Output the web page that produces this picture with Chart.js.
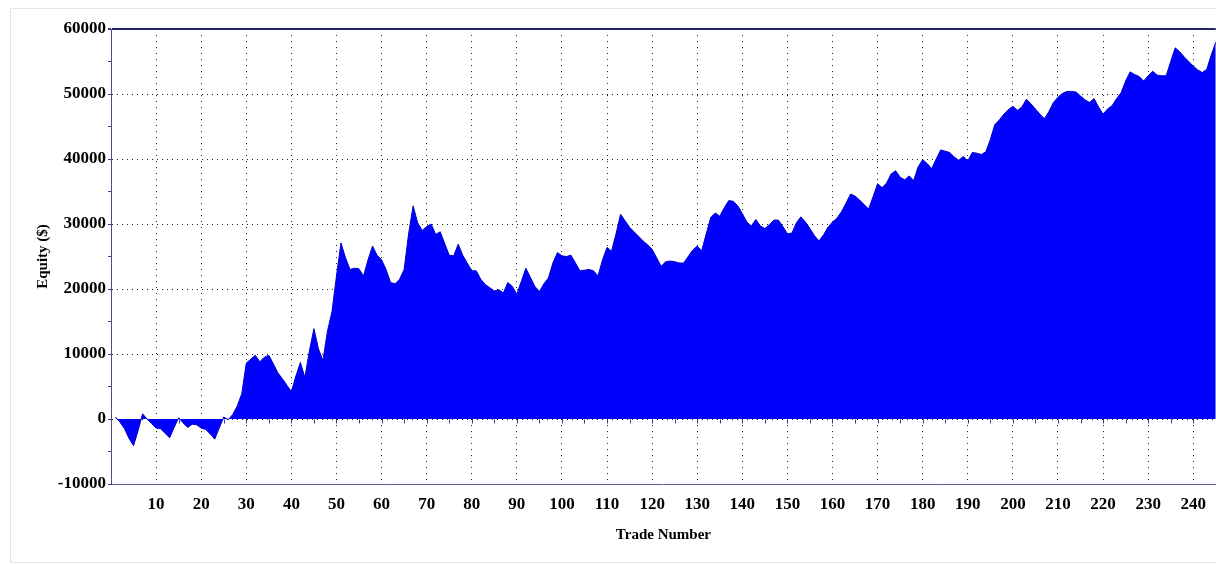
<!DOCTYPE html>
<html>
<head>
<meta charset="utf-8">
<script src="https://cdn.jsdelivr.net/npm/chart.js@4/dist/chart.umd.min.js"></script>
<style>
  html, body { margin: 0; padding: 0; background: #fff; }
  #wrap { position: relative; width: 1216px; height: 565px; }
  #frame { position: absolute; left: 10px; top: 8px; width: 1210px; height: 553px; border: 1px solid #e6e6e6; }
  canvas { position: absolute; left: 0; top: 0; }
</style>
</head>
<body>
<div id="wrap">
  <div id="frame"></div>
  <canvas id="equityChart" width="1216" height="565"></canvas>
</div>
<script>
// equity after each trade
const equity = [
  300, -500, -1500, -3000, -4100, -1800, 800, 0, -700, -1400,
  -1500, -2200, -2900, -1300, 200, -600, -1300, -800, -900, -1400,
  -1600, -2300, -3100, -1400, 300, -100, 700, 2000, 3900, 8600,
  9200, 9800, 8800, 9500, 9800, 8500, 7100, 6200, 5200, 4200,
  6600, 8700, 6400, 10500, 13900, 10800, 9000, 13500, 16500, 22000,
  27100, 24800, 23000, 23200, 23100, 22000, 24500, 26600, 25200, 24500,
  23000, 21000, 20800, 21500, 23000, 28500, 32800, 30200, 29000, 29600,
  30000, 28400, 28800, 27000, 25200, 25100, 26900, 25200, 24000, 22800,
  22800, 21500, 20700, 20200, 19700, 19900, 19400, 21000, 20400, 19200,
  21200, 23200, 21800, 20400, 19600, 20800, 21700, 24000, 25600, 25100,
  25000, 25200, 24000, 22800, 22900, 23000, 22800, 22000, 24500, 26400,
  25800, 28500, 31500, 30500, 29500, 28800, 28100, 27400, 26800, 26100,
  24800, 23500, 24200, 24300, 24200, 24000, 24000, 25000, 26000, 26600,
  25900, 28500, 31000, 31700, 31200, 32500, 33600, 33500, 32800, 31600,
  30300, 29700, 30700, 29700, 29300, 29900, 30600, 30600, 29600, 28500,
  28600, 30200, 31100, 30300, 29300, 28200, 27400, 28300, 29500, 30300,
  30900, 31900, 33200, 34600, 34300, 33700, 33000, 32300, 34200, 36200,
  35600, 36300, 37700, 38200, 37200, 36800, 37400, 36700, 38800, 39900,
  39300, 38500, 40000, 41400, 41200, 41000, 40300, 39800, 40400, 39700,
  41000, 40900, 40700, 41100, 43000, 45300, 46000, 46900, 47600, 48100,
  47500, 48000, 49200, 48500, 47700, 46900, 46200, 47300, 48700, 49500,
  50100, 50400, 50400, 50300, 49700, 49100, 48700, 49300, 48000, 46900,
  47700, 48200, 49300, 50200, 52000, 53400, 53000, 52700, 52000, 52800,
  53500, 52900, 52800, 52800, 55000, 57100, 56500, 55700, 55000, 54300,
  53700, 53300, 53800, 56000, 58000
];
const trades = Array.from({ length: equity.length }, (_, i) => i + 1);

const yMin = -10000, yMax = 60000, yStep = 5000;
const xMin = 0, xMax = 245;

const serifFamily = '"Liberation Serif", "Times New Roman", serif';
const tickFont = { family: serifFamily, weight: 'bold', size: 17 };
const titleFont = { family: serifFamily, weight: 'bold', size: 15 };

// little tick marks along the zero line every 5 trades
const zeroTicks = {
  id: 'zeroTicks',
  beforeDatasetsDraw(chart) {
    const { ctx, scales: { x, y } } = chart;
    const y0 = Math.round(y.getPixelForValue(0)) + 0.5;
    ctx.save();
    ctx.strokeStyle = '#3c3c8c';
    ctx.lineWidth = 1;
    ctx.beginPath();
    for (let t = 5; t <= xMax; t += 5) {
      const px = Math.round(x.getPixelForValue(t)) + 0.5;
      ctx.moveTo(px, y0);
      ctx.lineTo(px, y0 + 4);
    }
    ctx.stroke();
    ctx.restore();
  }
};

new Chart(document.getElementById('equityChart').getContext('2d'), {
  type: 'line',
  data: {
    datasets: [{
      data: trades.map((t, i) => ({ x: t, y: equity[i] })),
      borderColor: '#0000c8',
      borderWidth: 1,
      backgroundColor: '#0000ff',
      fill: 'origin',
      pointRadius: 0,
      tension: 0
    }]
  },
  plugins: [zeroTicks],
  options: {
    responsive: false,
    animation: false,
    devicePixelRatio: 1,
    layout: { padding: { top: 29, right: 0, bottom: 0, left: 0 } },
    plugins: { legend: { display: false }, tooltip: { enabled: false } },
    scales: {
      x: {
        type: 'linear',
        min: xMin,
        max: xMax,
        afterFit: (s) => { s.height = 81; },
        ticks: {
          stepSize: 10,
          includeBounds: false,
          autoSkip: false,
          maxRotation: 0,
          padding: 10,
          color: '#000',
          font: tickFont,
          callback: (v) => (v === 0 ? '' : String(v))
        },
        grid: {
          drawTicks: false,
          color: (c) => (c.tick && c.tick.value === 0 ? 'rgba(0,0,0,0)' : '#222'),
          lineWidth: 1
        },
        border: { display: true, color: '#5a5a9a', width: 1, dash: [1, 5] },
        title: {
          display: true,
          text: 'Trade Number',
          color: '#000',
          font: titleFont,
          padding: { top: 0, bottom: 21 }
        }
      },
      y: {
        min: yMin,
        max: yMax,
        afterFit: (s) => { s.width = 111; },
        ticks: {
          stepSize: yStep,
          padding: 2,
          color: '#000',
          font: tickFont,
          callback: (v) => (v % 10000 === 0 ? String(v) : '')
        },
        grid: {
          tickLength: 3,
          tickColor: '#3c3c8c',
          tickBorderDash: [],
          color: (c) => {
            const v = c.tick ? c.tick.value : null;
            if (v === yMax) return '#23236e';
            if (v === yMin || v % 10000 !== 0) return 'rgba(0,0,0,0)';
            return '#222';
          },
          lineWidth: (c) => (c.tick && c.tick.value === yMax ? 2 : 1)
        },
        border: {
          display: true,
          color: '#4a4a96',
          width: 1,
          dash: (c) => (c.tick && c.tick.value === yMax ? [] : [1, 4])
        },
        title: {
          display: true,
          text: 'Equity ($)',
          color: '#000',
          font: titleFont,
          padding: { top: 34, bottom: 0 }
        }
      }
    }
  }
});
</script>
</body>
</html>
